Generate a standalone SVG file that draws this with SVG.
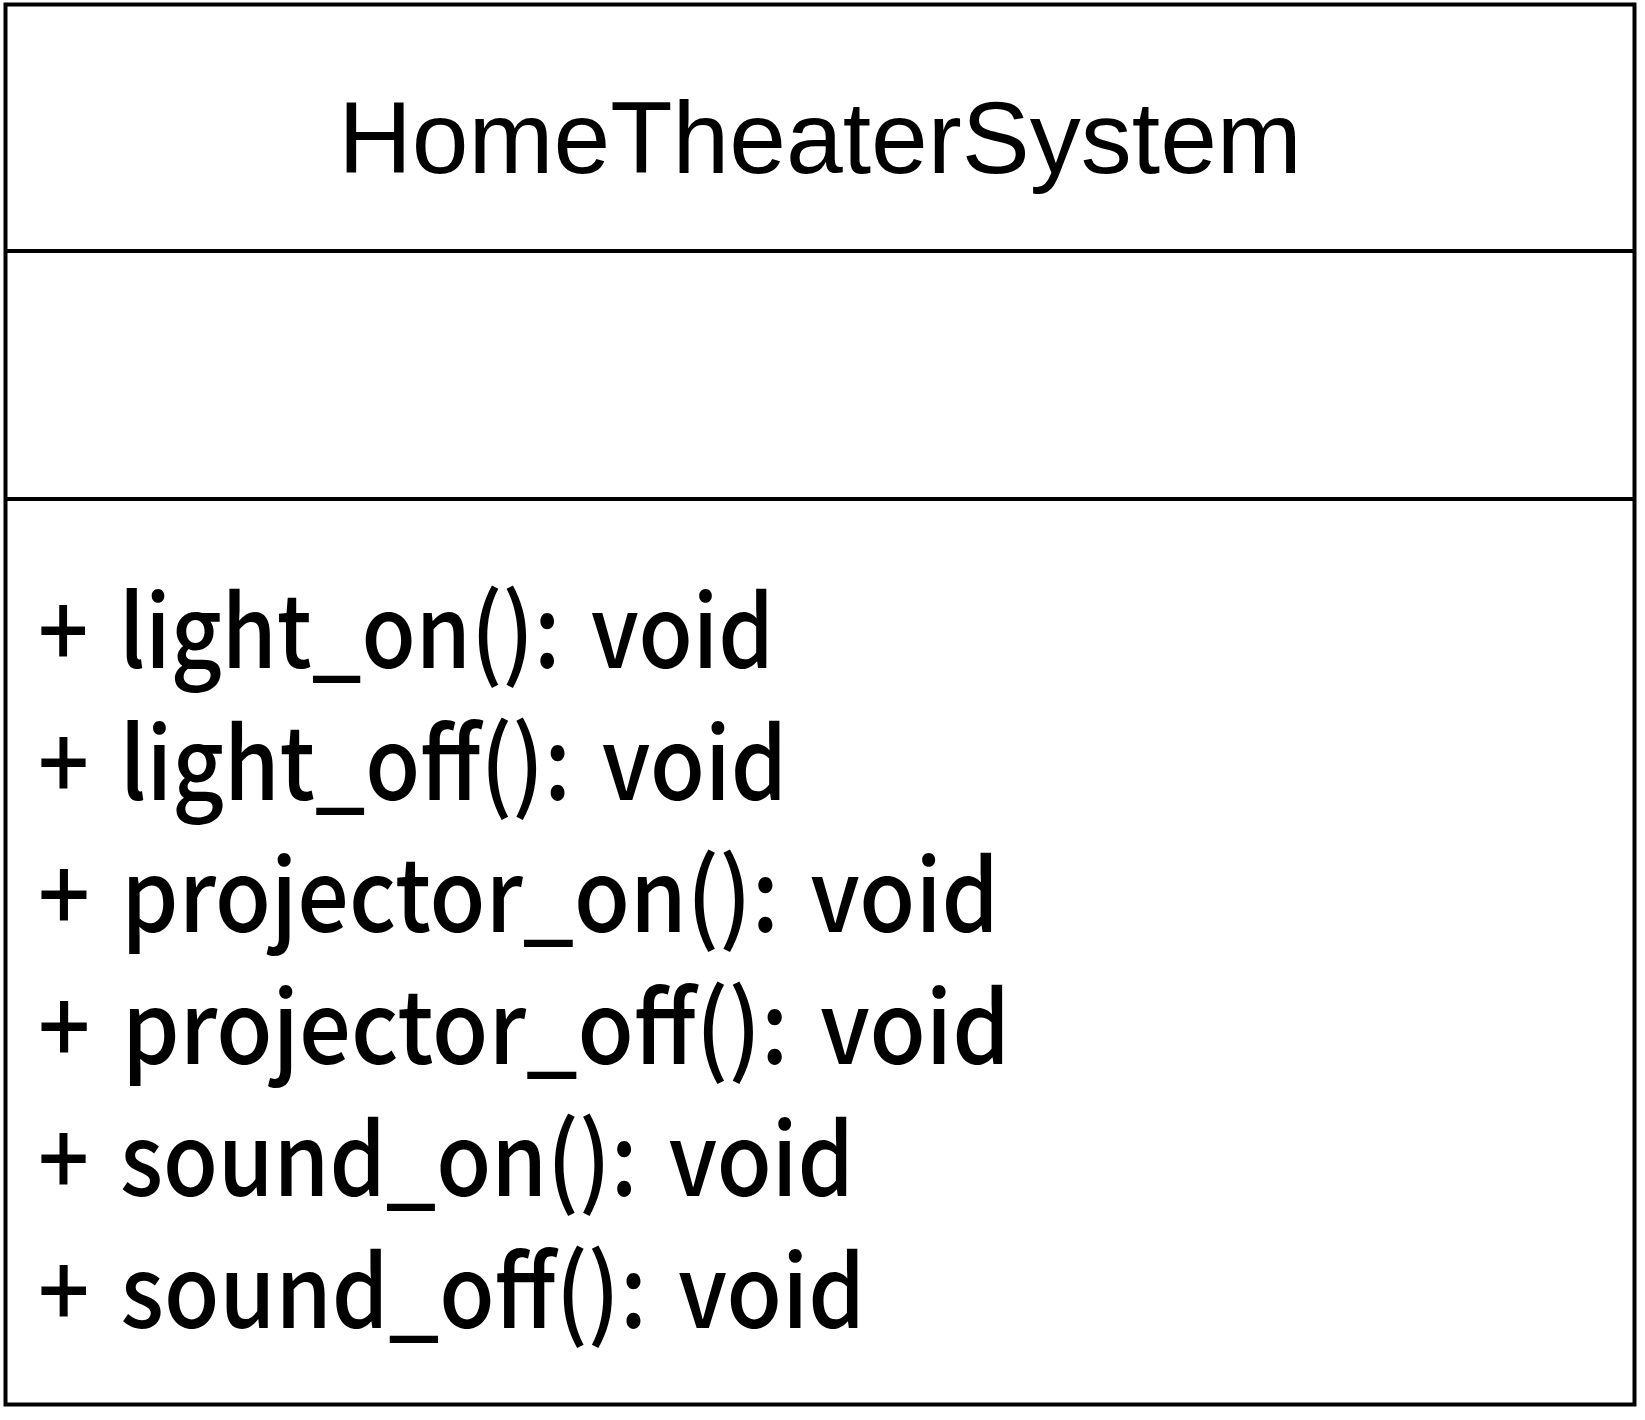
<svg xmlns="http://www.w3.org/2000/svg" width="1645" height="1420" viewBox="0 0 1645 1420">
<style>
.frame{fill:#ffffff;stroke:#000000;stroke-width:4}
.sep{stroke:#000000;stroke-width:4;fill:none}
.title{font-family:"Liberation Sans",Arial,sans-serif;font-size:102px;fill:#000000;text-anchor:middle}
.op{font-family:"Noto Sans CJK JP","Noto Sans",sans-serif;font-size:100px;font-weight:500;fill:#000000;word-spacing:12px}
</style>
<rect width="1645" height="1420" fill="#ffffff"/>
<g id="HomeTheaterSystem">
<rect class="frame" x="5.5" y="4.5" width="1629" height="1400"/>
<line class="sep" x1="5.5" y1="251" x2="1634.5" y2="251"/>
<line class="sep" x1="5.5" y1="499" x2="1634.5" y2="499"/>
<text class="title" x="820" y="173">HomeTheaterSystem</text>
<text class="op" x="38" y="668" textLength="736" lengthAdjust="spacingAndGlyphs">+ light_on(): void</text>
<text class="op" x="38" y="800" textLength="749" lengthAdjust="spacingAndGlyphs">+ light_off(): void</text>
<text class="op" x="38" y="932" textLength="961" lengthAdjust="spacingAndGlyphs">+ projector_on(): void</text>
<text class="op" x="38" y="1064" textLength="972" lengthAdjust="spacingAndGlyphs">+ projector_off(): void</text>
<text class="op" x="38" y="1196" textLength="816" lengthAdjust="spacingAndGlyphs">+ sound_on(): void</text>
<text class="op" x="38" y="1328" textLength="827" lengthAdjust="spacingAndGlyphs">+ sound_off(): void</text>
</g>
<g id="connectors"></g>
</svg>
